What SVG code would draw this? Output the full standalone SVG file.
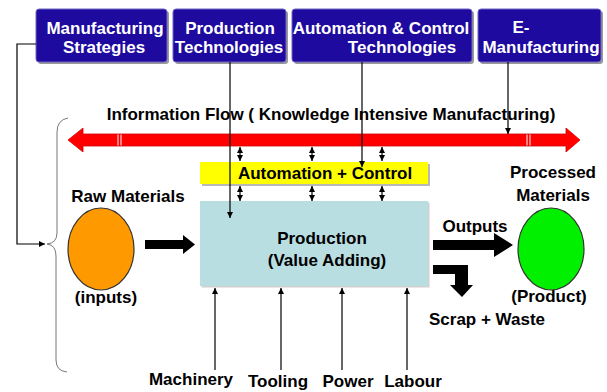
<svg xmlns="http://www.w3.org/2000/svg" width="607" height="392" viewBox="0 0 607 392">
<defs>
<style>
text{font-family:"Liberation Sans",Arial,sans-serif;font-weight:bold;font-size:17px;fill:#000;text-anchor:middle}
.hd text{fill:#fff}
.hbox{fill:#1E0A9E;stroke:#6E64C4;stroke-width:1}
.hsh{fill:#9a9a9a}
.ln{fill:none;stroke:#000;stroke-width:1.2}
.thick{fill:#000}
</style>
<marker id="ah" viewBox="0 0 8 8" refX="8" refY="4" markerWidth="6" markerHeight="6" markerUnits="userSpaceOnUse" orient="auto-start-reverse">
<path d="M0,0 L8,4 L0,8 Z" fill="#000"/>
</marker>
</defs>
<rect width="607" height="392" fill="#fff"/>

<g id="box-strategies" class="hd">
<rect class="hsh" x="38" y="11" width="131" height="53" rx="3"/>
<rect class="hbox" x="36" y="9" width="131" height="53" rx="3"/>
<text x="105" y="34">Manufacturing</text>
<text x="104" y="53">Strategies</text>
</g>
<g id="box-prodtech" class="hd">
<rect class="hsh" x="175" y="11" width="113" height="53" rx="3"/>
<rect class="hbox" x="173" y="9" width="113" height="53" rx="3"/>
<text x="230" y="34">Production</text>
<text x="229" y="53">Technologies</text>
</g>
<g id="box-autotech" class="hd">
<rect class="hsh" x="294" y="11" width="180" height="53" rx="3"/>
<rect class="hbox" x="292" y="9" width="180" height="53" rx="3"/>
<text x="381" y="34">Automation &amp; Control</text>
<text x="402" y="53">Technologies</text>
</g>
<g id="box-emanuf" class="hd">
<rect class="hsh" x="480" y="11" width="123" height="53" rx="3"/>
<rect class="hbox" x="478" y="9" width="123" height="53" rx="3"/>
<text x="521" y="33">E-</text>
<text x="541" y="53">Manufacturing</text>
</g>

<g id="info-flow">
<text x="331" y="120">Information Flow ( Knowledge Intensive Manufacturing)</text>
<path d="M68,140 L83,128 L83,134 L566,134 L566,128 L580,140 L566,152 L566,146 L83,146 L83,152 Z" fill="#FF0000" stroke="#D00000" stroke-width="0.8"/>
<path d="M118,134.5 V145.5 M121,134.5 V145.5 M527,134.5 V145.5 M530,134.5 V145.5" stroke="#fff" stroke-width="1"/>
</g>

<g id="automation-control">
<rect x="202" y="164" width="228" height="22" fill="#B8B8B8"/>
<rect x="200" y="162" width="228" height="22" fill="#FFFF00"/>
<text x="325" y="179">Automation + Control</text>
</g>

<g id="production">
<rect x="201.5" y="202.5" width="228" height="85" fill="#D0D0D0"/>
<rect x="200" y="201" width="228" height="85" fill="#B8DEE2"/>
<text x="322" y="244">Production</text>
<text x="327" y="266">(Value Adding)</text>
</g>

<g id="raw-materials">
<text x="128" y="202">Raw Materials</text>
<ellipse cx="101" cy="249" rx="33" ry="41" fill="#FF9900" stroke="#333" stroke-width="1.2"/>
<text x="106" y="303">(inputs)</text>
</g>

<g id="processed-materials">
<text x="553" y="178">Processed</text>
<text x="553" y="201">Materials</text>
<ellipse cx="551" cy="249" rx="33" ry="41" fill="#00F000" stroke="#333" stroke-width="1.2"/>
<text x="549" y="302">(Product)</text>
</g>

<g id="labels">
<text x="475" y="232">Outputs</text>
<text x="487" y="325">Scrap + Waste</text>
<text x="191" y="385">Machinery</text>
<text x="278" y="387">Tooling</text>
<text x="348" y="387">Power</text>
<text x="413" y="387">Labour</text>
</g>

<g id="connectors">
<path class="ln" d="M36,44 H17 V244 H45" marker-end="url(#ah)"/>
<path d="M68,118 Q57,120 57,132 L57,233 Q57,243 47,244 Q56,245 56,256 L56,360 Q56,371 67,372" fill="none" stroke="#777" stroke-width="1"/>
<path class="ln" d="M230,62 V218" marker-end="url(#ah)"/>
<path class="ln" d="M362,62 V167" marker-end="url(#ah)"/>
<path class="ln" d="M508,62 V134" marker-end="url(#ah)"/>
<g class="ln" stroke-width="1">
<path d="M240,147 V161" marker-start="url(#ah)" marker-end="url(#ah)"/>
<path d="M312,147 V161" marker-start="url(#ah)" marker-end="url(#ah)"/>
<path d="M382,147 V161" marker-start="url(#ah)" marker-end="url(#ah)"/>
<path d="M240,186 V201" marker-start="url(#ah)" marker-end="url(#ah)"/>
<path d="M312,186 V201" marker-start="url(#ah)" marker-end="url(#ah)"/>
<path d="M382,186 V201" marker-start="url(#ah)" marker-end="url(#ah)"/>
</g>
<path class="ln" d="M215,370 V288" marker-end="url(#ah)"/>
<path class="ln" d="M281,370 V288" marker-end="url(#ah)"/>
<path class="ln" d="M342,370 V288" marker-end="url(#ah)"/>
<path class="ln" d="M407,370 V288" marker-end="url(#ah)"/>
<path class="thick" d="M145,240 H183 V235 L195,244.5 L183,254 V249 H145 Z"/>
<path class="thick" d="M433,240 H494 V233 L513,245 L494,257 V250 H433 Z"/>
<path class="thick" d="M433,265 H468 V285 H473 L462,297 L450,285 H455 V274 H433 Z"/>
</g>
</svg>
